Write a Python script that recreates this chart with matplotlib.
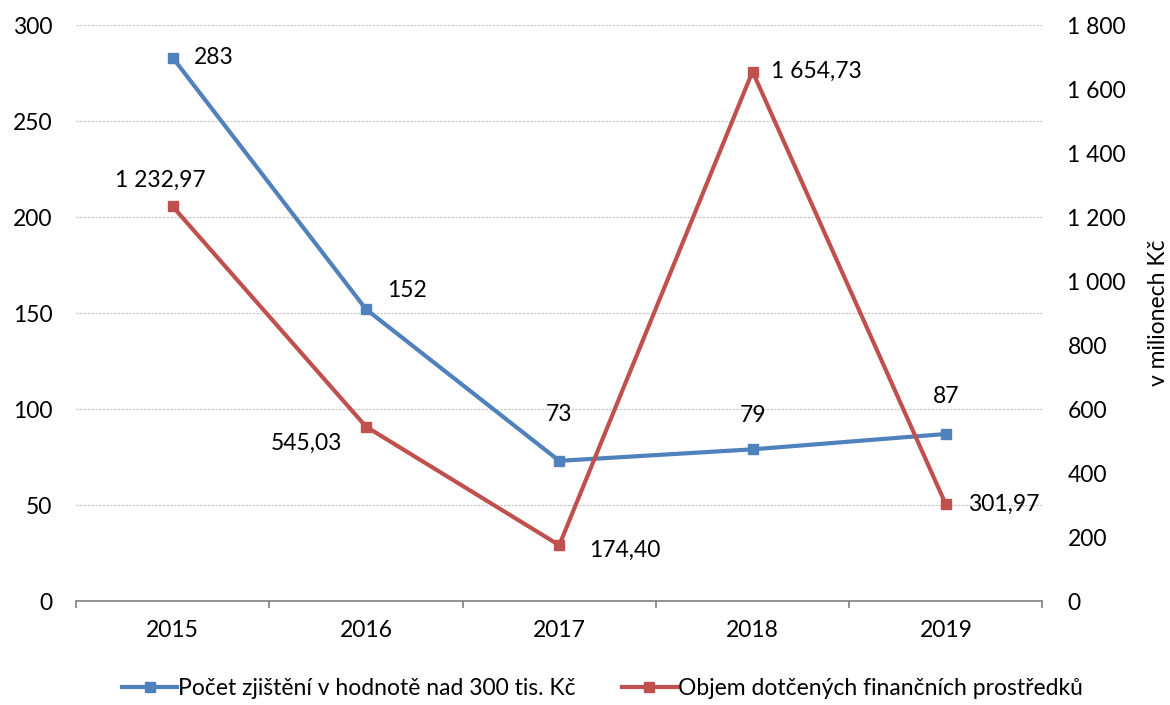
import numpy as np
import matplotlib.pyplot as plt
from matplotlib.ticker import FuncFormatter

plt.rcParams['font.family'] = ['Lato', 'DejaVu Sans']

years = ['2015', '2016', '2017', '2018', '2019']
pocet = [283, 152, 73, 79, 87]
objem = [1232.97, 545.03, 174.40, 1654.73, 301.97]
pocet_labels = ['283', '152', '73', '79', '87']
objem_labels = ['1 232,97', '545,03', '174,40', '1 654,73', '301,97']

blue = '#4F81BD'
red = '#C0504D'
fs = 16.5

fig = plt.figure(figsize=(11.7, 7.05), dpi=100)
ax = fig.add_axes([0.065, 0.1475, 0.826, 0.817])
ax2 = ax.twinx()

x = np.arange(len(years))
l1, = ax.plot(x, pocet, color=blue, lw=3, marker='s', ms=7, zorder=3,
              label='Počet zjištění v hodnotě nad 300 tis. Kč')
l2, = ax2.plot(x, objem, color=red, lw=3, marker='s', ms=7, zorder=3,
               label='Objem dotčených finančních prostředků')

ax.set_xlim(-0.5, len(years) - 0.5)
ax.set_ylim(0, 300)
ax.set_yticks(np.arange(0, 301, 50))
ax2.set_ylim(0, 1800)
ax2.set_yticks(np.arange(0, 1801, 200))
ax2.yaxis.set_major_formatter(FuncFormatter(lambda v, p: f'{int(v):,}'.replace(',', ' ')))

ax.grid(axis='y', color='#C8C8C8', ls=(0, (2, 1)), lw=0.9)
ax.set_axisbelow(True)
for a in (ax, ax2):
    for s in ('top', 'left', 'right'):
        a.spines[s].set_visible(False)
    a.tick_params(axis='y', length=0, labelsize=fs)
ax.tick_params(axis='y', pad=17)
ax2.tick_params(axis='y', pad=18)
ax.spines['bottom'].set_visible(False)
ax2.spines['bottom'].set_color('#808080')
ax2.spines['bottom'].set_linewidth(1.2)

ax.set_xticks(x)
ax.set_xticklabels(years, fontsize=fs)
ax.tick_params(axis='x', length=0, pad=14)
ax.set_xticks(np.arange(-0.5, len(years), 1), minor=True)
ax.tick_params(axis='x', which='minor', length=5, width=1.2, color='#808080', direction='out')
ax2.set_ylabel('v milionech Kč', fontsize=fs, labelpad=16)

# data labels, offsets in pixels
p_off = [(41, 0), (41, 19), (0, 46), (0, 34), (0, 37)]
for i, (dx, dy) in enumerate(p_off):
    ax.annotate(pocet_labels[i], (x[i], pocet[i]), xytext=(dx, dy), textcoords='offset pixels',
                ha='center', va='center', fontsize=fs)
o_off = [(-12, 26), (-60, -17), (66, -5), (64, 0), (58, 0)]
for i, (dx, dy) in enumerate(o_off):
    ax2.annotate(objem_labels[i], (x[i], objem[i]), xytext=(dx, dy), textcoords='offset pixels',
                 ha='center', va='center', fontsize=fs)

fig.legend(handles=[l1, l2], loc='center', bbox_to_anchor=(0.515, 0.024), ncol=2,
           frameon=False, fontsize=fs, handlelength=2.4, columnspacing=2.0, handletextpad=0.05)

fig.savefig('out.png', dpi=100)
